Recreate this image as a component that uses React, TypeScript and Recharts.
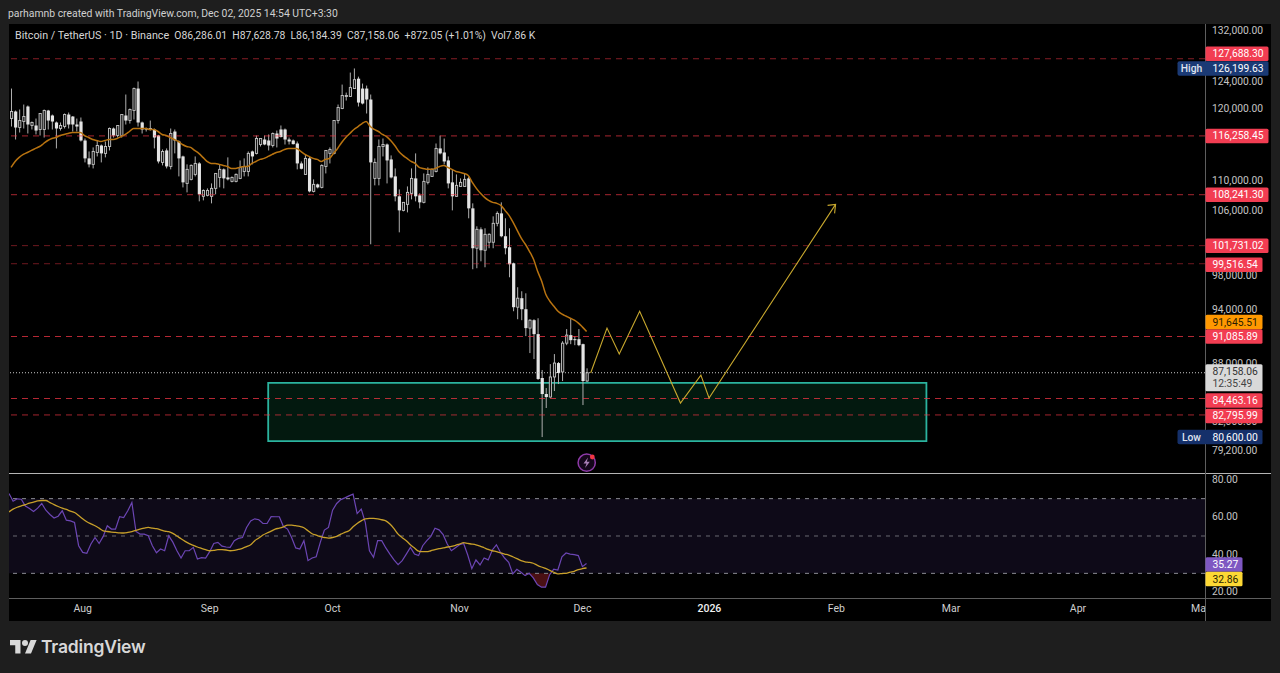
import { Area, Bar, ComposedChart, Line, ReferenceArea, ReferenceLine, XAxis, YAxis } from "recharts";

const FONT = "Roboto, sans-serif";
const TOTAL_DAYS = 293; // Jul 14 2025 .. May 2026, one slot per day

const opens = [
  118740, 119760, 117450, 118310, 120490, 117740, 117740, 117170, 117170, 119900, 119180, 118170, 117310, 117590, 119320, 119030, 117880, 118310, 115610, 113120,
  112300, 113940, 114910, 113810, 114770, 117310, 116310, 116310, 119180, 118450, 119900, 123150, 118170, 117310, 117170, 117170, 116310, 112570, 114220, 112020,
  116880, 115470, 113390, 109730, 110270, 110940, 112430, 108020, 108150, 108020, 109070, 110530, 111620, 110530, 110000, 110000, 110400, 111340, 111340, 114080,
  113810, 115050, 115750, 115610, 114910, 116600, 117170, 117170, 115750, 115610, 115190, 112430, 110940, 113120, 108670, 109600, 109200, 112020, 113810, 113810,
  118450, 120200, 121960, 121960, 123150, 124640, 123150, 123150, 121520, 110400, 110400, 114770, 115050, 112980, 110670, 108020, 106190, 106970, 108410, 110400,
  108150, 107230, 109870, 110670, 111340, 114500, 113940, 112840, 109870, 108020, 109330, 109330, 110400, 106450, 101410, 103770, 101160, 102150, 102150, 104530,
  105800, 102900, 101530, 99570, 94390, 95430, 94160, 92020, 92910, 91350, 86600, 84930, 84620, 86710, 88190, 87240, 90350, 91240, 90790, 90790,
  90240, 86286.01,
];
const highs = [
  123150, 119900, 120050, 120780, 120640, 118310, 118740, 119470, 120050, 120000, 119320, 118310, 118170, 119470, 119610, 119100, 118740, 118890, 115890, 114080,
  114640, 115610, 115050, 115470, 117450, 117450, 117740, 119320, 122260, 120200, 123300, 124210, 118300, 117450, 118450, 117310, 116400, 114360, 114500, 117310,
  117170, 115610, 113500, 112300, 112300, 113390, 112600, 108930, 109070, 109730, 111070, 112300, 111750, 113260, 110670, 111070, 112840, 113120, 114080, 114200,
  116310, 115890, 116310, 116460, 116740, 117020, 117740, 117310, 116030, 115750, 115470, 112700, 113670, 113390, 110270, 109700, 112300, 114220, 114640, 118450,
  120780, 123750, 122550, 125570, 126199.63, 124950, 123900, 123600, 122260, 113120, 115750, 115890, 115190, 113530, 111750, 108930, 107230, 109330, 111750, 113810,
  108410, 111070, 111890, 111750, 115190, 116310, 115890, 113390, 111620, 110940, 110400, 111070, 110670, 107100, 104150, 104020, 103900, 103270, 105420, 106060,
  107230, 105170, 103900, 99650, 96710, 96240, 96000, 93020, 93020, 93130, 87450, 85550, 88080, 89160, 88300, 90570, 91910, 93130, 91130, 91910,
  90300, 87628.78,
];
const lows = [
  117590, 115750, 116740, 117310, 116600, 117170, 116460, 116310, 116030, 117170, 117170, 114500, 117020, 117310, 117310, 116880, 116880, 115470, 112570, 111890,
  111750, 113390, 112570, 113260, 114220, 116030, 116030, 116030, 117880, 118020, 118600, 117590, 116600, 116880, 117020, 114500, 112430, 112160, 111750, 111620,
  113810, 110670, 109200, 108540, 110130, 110670, 107360, 107490, 108020, 107100, 108280, 109200, 109070, 110130, 109870, 109870, 110300, 110670, 110670, 112300,
  113670, 114770, 114950, 114220, 114640, 114640, 116030, 115050, 115050, 115050, 111620, 111620, 110900, 108540, 108540, 109070, 109070, 111070, 112430, 113670,
  118020, 120100, 121370, 121900, 124490, 120490, 120800, 119470, 101900, 109470, 109470, 113390, 109730, 110400, 107360, 103390, 106060, 105930, 107620, 107360,
  106450, 107100, 109600, 110600, 111210, 113670, 112300, 109070, 106190, 107950, 109250, 109250, 105170, 98850, 98970, 99810, 99090, 101410, 101410, 104150,
  102770, 100660, 97890, 93930, 93020, 92910, 91130, 89270, 88620, 86400, 80600, 83500, 84550, 85240, 85970, 86280, 90130, 90240, 90130, 90020,
  83800, 86184.39,
];
const closes = [
  119760, 117450, 118450, 119030, 117880, 118170, 117020, 119470, 119900, 118450, 118310, 117310, 117740, 119320, 117880, 117880, 117590, 115610, 113120, 112300,
  114080, 114910, 113810, 114770, 117310, 116310, 117740, 119320, 118450, 120050, 123150, 118170, 117170, 117170, 117310, 116030, 112700, 114080, 112020, 116600,
  115610, 113120, 109870, 111620, 112160, 112430, 108280, 108800, 108800, 109070, 111070, 111620, 110400, 110270, 110530, 110940, 111890, 112020, 113810, 113390,
  115890, 115890, 115050, 114910, 116600, 115890, 116100, 115750, 115470, 115100, 112430, 111700, 113120, 108670, 109600, 109200, 112160, 114220, 114360, 118450,
  120340, 122110, 122110, 123300, 124490, 121070, 120930, 121520, 112570, 112570, 114770, 115050, 112840, 110530, 108020, 106190, 107230, 108540, 110400, 108020,
  107230, 110000, 110940, 111620, 114500, 113810, 112700, 109730, 108020, 109470, 109870, 110270, 106450, 101410, 103770, 101160, 103140, 103140, 104530, 105800,
  102900, 101410, 99450, 94390, 95430, 94160, 92020, 92910, 91350, 86500, 84930, 84620, 86710, 88190, 87130, 90350, 91240, 90680, 90680, 90130,
  86286.01, 87158.06,
];
const priceMa = [
  111890, 112700, 113260, 113670, 113940, 114220, 114500, 114770, 115190, 115610, 115890, 116030, 116310, 116460, 116600, 116740, 116740, 116740, 116310, 116030,
  115750, 115610, 115470, 115610, 115750, 115750, 115890, 116170, 116460, 116880, 117310, 117310, 117310, 117310, 117170, 117170, 116880, 116460, 116310, 116030,
  115750, 115470, 115050, 114770, 114640, 114220, 113810, 113260, 112700, 112430, 112430, 112300, 112160, 112020, 111750, 111750, 111890, 112020, 112020, 112430,
  112700, 112980, 113120, 113390, 113670, 113940, 114080, 114360, 114500, 114500, 114500, 114080, 113670, 113390, 113120, 112980, 112700, 112980, 113120, 113810,
  114500, 115330, 116030, 116600, 117170, 117590, 118020, 118310, 117590, 117170, 116880, 116460, 116170, 115610, 114910, 114080, 113530, 113120, 112700, 112430,
  111890, 111750, 111620, 111620, 111750, 112020, 112160, 111890, 111620, 111340, 111210, 111070, 110800, 109870, 109070, 108410, 107880, 107490, 107230, 107100,
  106840, 106190, 105550, 104650, 103640, 102650, 101900, 101030, 100050, 98610, 97420, 95890, 95080, 94500, 93930, 93590, 93360, 93130, 92910, 92580,
  92130, 91645.51,
];
const rsi = [
  72.7, 68.6, 69.9, 69.7, 66.0, 64.7, 63.1, 64.9, 67.4, 63.8, 61.5, 59.6, 60.6, 63.5, 58.5, 58.1, 57.2, 44.8, 41.2, 40.7,
  45.7, 49.2, 46.0, 49.8, 55.5, 53.7, 53.7, 60.3, 59.9, 63.5, 67.9, 52.4, 51.0, 51.0, 50.1, 44.8, 41.0, 43.0, 42.1, 50.1,
  46.7, 42.1, 38.2, 42.1, 42.1, 43.9, 37.7, 38.4, 38.2, 41.6, 46.0, 46.6, 44.6, 44.1, 43.9, 47.5, 48.7, 49.2, 54.6, 58.1,
  59.2, 58.7, 56.7, 56.7, 60.4, 60.3, 60.3, 55.1, 53.7, 49.2, 43.6, 43.0, 47.5, 36.8, 38.2, 38.9, 46.6, 53.2, 54.6, 63.8,
  67.4, 69.5, 70.4, 71.5, 72.4, 62.0, 64.4, 57.2, 42.1, 38.6, 47.5, 47.5, 43.6, 40.3, 37.2, 34.7, 36.8, 40.3, 43.9, 40.3,
  39.5, 44.8, 47.5, 49.8, 54.2, 53.3, 50.7, 45.7, 42.1, 43.7, 45.3, 46.0, 39.8, 32.5, 37.2, 34.5, 38.2, 37.2, 42.5, 45.3,
  41.2, 38.2, 35.9, 29.7, 32.2, 30.6, 28.8, 30.0, 27.6, 24.0, 22.6, 22.6, 29.3, 32.3, 31.8, 38.9, 40.9, 40.3, 40.0, 39.5,
  33.6, 35.27,
];
const rsiMa = [
  62.9, 64.4, 65.4, 66.1, 66.8, 67.6, 68.1, 68.8, 69.0, 69.0, 67.9, 66.8, 65.8, 64.9, 64.2, 63.3, 62.6, 61.0, 59.2, 57.6,
  56.5, 55.5, 54.2, 52.8, 52.4, 52.1, 51.9, 51.7, 51.6, 51.9, 52.4, 53.0, 53.7, 54.2, 54.6, 54.2, 53.9, 53.3, 52.6, 52.3,
  51.4, 50.0, 48.5, 47.1, 45.9, 45.0, 44.1, 43.4, 42.7, 42.1, 42.3, 42.7, 42.7, 42.5, 42.1, 42.3, 42.8, 43.4, 44.3, 45.3,
  47.5, 48.9, 50.5, 51.6, 52.6, 53.7, 54.2, 54.9, 55.8, 55.8, 55.5, 55.1, 54.4, 52.8, 51.2, 50.5, 49.6, 49.2, 48.9, 49.2,
  49.8, 51.0, 51.9, 52.8, 54.9, 56.7, 58.1, 59.2, 59.4, 59.4, 59.2, 58.7, 58.1, 56.4, 53.9, 51.0, 49.1, 47.5, 45.3, 43.6,
  41.9, 41.6, 41.6, 42.1, 42.7, 43.2, 43.6, 44.1, 44.4, 45.0, 45.7, 46.4, 46.0, 45.7, 45.3, 44.6, 43.7, 42.8, 42.1, 41.6,
  40.9, 40.3, 39.8, 38.9, 37.9, 36.8, 36.2, 35.9, 35.4, 34.3, 33.4, 32.7, 31.6, 30.6, 29.7, 29.9, 30.0, 30.6, 31.1, 32.0,
  32.5, 32.86,
];

// hand-drawn forecast path: day slot -> price
const pathDays = [142, 146, 149, 154, 164, 169, 171, 202];
const pathPrices = [87130, 92020, 89160, 93930, 84000, 86910, 84520, 106970];

const priceTicks = [132000, 124000, 120000, 116000, 110000, 106000, 98000, 94000, 88000, 82000, 79200];
const rsiTicks = [80, 60, 40, 20];
const monthDays = [18, 49, 79, 110, 140, 171, 202, 230, 261, 291];
const monthLabels = ["Aug", "Sep", "Oct", "Nov", "Dec", "2026", "Feb", "Mar", "Apr", "May"];

const levels = [127688.3, 116258.45, 108241.3, 101731.02, 99516.54, 91085.89, 84463.16, 82795.99];
const levelShift = [-5, 0, 0, 0, 1, 0, 2, 1]; // tags get pushed apart so they don't overlap
const levelBright = [0.55, 0.55, 0.55, 0.5, 0.5, 0.75, 0.75, 0.75];
const zoneDays = [63.5, 224.75];
const zonePrices = [86080, 80200];

const PRICE_DOMAIN = [77151, 133210];
const RSI_DOMAIN = [16.8, 83.73];

const money = (v: number) => v.toLocaleString("en-US", { minimumFractionDigits: 2, maximumFractionDigits: 2 });

const rows = Array.from({ length: TOTAL_DAYS }, (_, i) => {
  const p = pathDays.indexOf(i);
  return {
    day: i,
    open: opens[i],
    high: highs[i],
    low: lows[i],
    close: closes[i],
    ma: priceMa[i],
    rsi: rsi[i],
    rsiMa: rsiMa[i],
    path: p >= 0 ? pathPrices[p] : null,
    oversold: rsi[i] != null && rsi[i] <= 30 ? [rsi[i], 30] : null,
  };
});

function Wick(props: any) {
  if (props.payload.open == null) return null;
  return <rect x={props.x} y={props.y} width={1} height={props.height} fill="#aeaeae" />;
}

function Body(props: any) {
  const d = props.payload;
  if (d.open == null) return null;
  const h = Math.max(props.height, 1);
  if (d.close > d.open) {
    return <rect x={props.x + 0.5} y={props.y} width={2.2} height={h} fill="#141414" stroke="#c4c4c4" strokeWidth={0.9} />;
  }
  return <rect x={props.x} y={props.y} width={3.2} height={h} fill="#e4e4e4" />;
}

function PriceTag({ viewBox, text, sub, bg, color = "#fff", width = 63, shift = 0, side }: any) {
  const x = viewBox.x + viewBox.width + 0.5;
  const cy = viewBox.y + shift;
  const h = sub ? 27 : 14.5;
  const top = sub ? cy - 7 : cy - h / 2;
  return (
    <g style={{ fontFamily: FONT, fontSize: 10.3 }}>
      {side && <rect x={x - 28} y={top} width={30} height={h} fill={bg} rx={2} />}
      {side && (
        <text x={x - 14} y={top + 11} fill="#dfe3ee" textAnchor="middle" fontWeight={500}>
          {side}
        </text>
      )}
      <rect x={x} y={top} width={width} height={h} fill={bg} rx={1.5} />
      <text x={x + 7} y={top + 10.8} fill={color}>
        {text}
      </text>
      {sub && (
        <text x={x + 7} y={top + 23} fill="#444">
          {sub}
        </text>
      )}
    </g>
  );
}

function ArrowDot(props: any) {
  const { cx, cy, index } = props;
  if (index !== 202) return <g key={index} />;
  return <path key={index} d={`M${cx - 8} ${cy + 1}L${cx} ${cy}L${cx - 1} ${cy + 9}`} fill="none" stroke="#c8a82e" strokeWidth={1.1} />;
}

function MonthTick(props: any) {
  const { x, y, payload } = props;
  const label = monthLabels[monthDays.indexOf(payload.value)];
  return (
    <text x={x} y={y} textAnchor="middle" fill={label === "2026" ? "#f0f0f0" : "#cfcfcf"} fontWeight={label === "2026" ? 500 : 400} style={{ fontFamily: FONT, fontSize: 10.5 }}>
      {label}
    </text>
  );
}

export default function App() {
  return (
    <div style={{ position: "absolute", left: 0, top: 0, width: 1280, height: 673, overflow: "hidden", background: "#1e1e1e", fontFamily: FONT }}>
      <div style={{ position: "absolute", left: 8, top: 7, fontSize: 10.4, color: "#d0d0d0", whiteSpace: "nowrap" }}>
        parhamnb created with TradingView.com, Dec 02, 2025 14:54 UTC+3:30
      </div>

      <div style={{ position: "absolute", left: 9, top: 24, width: 1262, height: 597, background: "#000" }} />

      <div style={{ position: "absolute", left: 9, top: 24 }}>
        <ComposedChart width={1262} height={449} data={rows} margin={{ top: 0, right: 0, bottom: 0, left: 0 }} barGap={0}>
          <XAxis dataKey="day" type="category" hide height={0} interval={0} />
          <XAxis xAxisId="wick" dataKey="day" type="category" hide height={0} interval={0} />
          <XAxis xAxisId="zone" dataKey="day" type="number" domain={[0, TOTAL_DAYS]} hide height={0} />
          <YAxis
            orientation="right"
            width={66}
            scale="log"
            type="number"
            domain={PRICE_DOMAIN}
            allowDataOverflow
            ticks={priceTicks}
            interval={0}
            tickFormatter={money}
            axisLine={false}
            tickLine={false}
            tickSize={0}
            tickMargin={7}
            tick={{ fill: "#c4c4c4", fontSize: 10.3, fontFamily: FONT, dy: -1.5 }}
          />
          <ReferenceArea
            xAxisId="zone"
            x1={zoneDays[0]}
            x2={zoneDays[1]}
            y1={zonePrices[1]}
            y2={zonePrices[0]}
            fill="#03190f"
            fillOpacity={1}
            stroke="#2bb39f"
            strokeWidth={1.8}
          />
          {levels.map((v, i) => (
            <ReferenceLine
              key={v}
              y={v}
              stroke="#f23645"
              strokeOpacity={levelBright[i]}
              strokeWidth={i === 3 || i === 4 || i === 7 ? 0.9 : 1.1}
              strokeDasharray="6 5"
            />
          ))}
          <ReferenceLine y={87158.06} stroke="#c8c8c8" strokeDasharray="1 2" />
          <Bar xAxisId="wick" dataKey={(d: any) => (d.open == null ? null : [d.low, d.high])} barSize={1} shape={Wick} isAnimationActive={false} />
          <Bar dataKey={(d: any) => (d.open == null ? null : [Math.min(d.open, d.close), Math.max(d.open, d.close)])} barSize={3} shape={Body} isAnimationActive={false} />
          <Line dataKey="ma" type="monotone" stroke="#b87310" strokeWidth={1.5} dot={false} isAnimationActive={false} />
          <Line dataKey="path" type="linear" connectNulls stroke="#c8a82e" strokeWidth={1.1} dot={ArrowDot} activeDot={false} isAnimationActive={false} />
        </ComposedChart>
      </div>

      <div style={{ position: "absolute", left: 9, top: 473 }}>
        <ComposedChart width={1262} height={148} data={rows} margin={{ top: 0, right: 0, bottom: 0, left: 0 }}>
          <XAxis
            dataKey="day"
            type="category"
            height={23}
            ticks={monthDays}
            interval={0}
            axisLine={false}
            tickLine={false}
            tickSize={0}
            tickMargin={14}
            tick={MonthTick}
          />
          <YAxis
            orientation="right"
            width={66}
            type="number"
            domain={RSI_DOMAIN}
            allowDataOverflow
            ticks={rsiTicks}
            interval={0}
            tickFormatter={(v: number) => v.toFixed(2)}
            axisLine={false}
            tickLine={false}
            tickSize={0}
            tickMargin={7}
            tick={{ fill: "#c4c4c4", fontSize: 10.3, fontFamily: FONT, dy: -0.7 }}
          />
          <ReferenceArea y1={30} y2={70} fill="#0e0a18" fillOpacity={1} stroke="none" />
          <ReferenceLine y={70} stroke="#8c8c94" strokeDasharray="4 5" />
          <ReferenceLine y={50} stroke="#6a6a72" strokeDasharray="4 5" />
          <ReferenceLine y={30} stroke="#8c8c94" strokeDasharray="4 5" />
          <Area dataKey="oversold" stroke="none" fill="#4a1014" fillOpacity={1} isAnimationActive={false} />
          <Line dataKey="rsi" type="linear" stroke="#6c46b4" strokeWidth={1.2} dot={false} isAnimationActive={false} />
          <Line dataKey="rsiMa" type="monotone" stroke="#c8a02a" strokeWidth={1.3} dot={false} isAnimationActive={false} />
        </ComposedChart>
      </div>

      {/* pane separators */}
      <div style={{ position: "absolute", left: 1206, top: 599, width: 65, height: 22, background: "#000" }} />
      <div style={{ position: "absolute", left: 9, top: 473, width: 1262, height: 1, background: "#b4b4b4" }} />
      <div style={{ position: "absolute", left: 9, top: 598, width: 1262, height: 1, background: "#5e5e5e" }} />
      <div style={{ position: "absolute", left: 1205, top: 24, width: 1, height: 597, background: "#5e5e5e" }} />

      {/* price tags sit above the axis labels, so they get their own layers on the same scales */}
      <div style={{ position: "absolute", left: 9, top: 24 }}>
        <ComposedChart width={1262} height={449} data={rows} margin={{ top: 0, right: 0, bottom: 0, left: 0 }}>
          <XAxis dataKey="day" type="category" hide height={0} />
          <YAxis orientation="right" width={66} scale="log" type="number" domain={PRICE_DOMAIN} allowDataOverflow axisLine={false} tickLine={false} tick={false} />
          {levels.map((v, i) => (
            <ReferenceLine
              key={`tag-${v}`}
              y={v}
              stroke="none"
              label={(p: any) => <PriceTag viewBox={p.viewBox} text={money(v)} bg="#f23d52" shift={levelShift[i]} width={v >= 100000 ? 63 : 57} />}
            />
          ))}
          <ReferenceLine y={126199.63} stroke="none" label={(p: any) => <PriceTag viewBox={p.viewBox} text="126,199.63" bg="#1b3a75" side="High" />} />
          <ReferenceLine y={91645.51} stroke="none" label={(p: any) => <PriceTag viewBox={p.viewBox} text="91,645.51" bg="#ff9800" color="#2a1c00" width={57} shift={-9.5} />} />
          <ReferenceLine y={87158.06} stroke="none" label={(p: any) => <PriceTag viewBox={p.viewBox} text="87,158.06" sub="12:35:49" bg="#d9d9d9" color="#333" width={57} shift={-1.5} />} />
          <ReferenceLine y={80600} stroke="none" label={(p: any) => <PriceTag viewBox={p.viewBox} text="80,600.00" bg="#15306a" width={57} side="Low" />} />
        </ComposedChart>
      </div>
      <div style={{ position: "absolute", left: 9, top: 473 }}>
        <ComposedChart width={1262} height={148} data={rows} margin={{ top: 0, right: 0, bottom: 23, left: 0 }}>
          <XAxis dataKey="day" type="category" hide height={0} />
          <YAxis orientation="right" width={66} type="number" domain={RSI_DOMAIN} allowDataOverflow axisLine={false} tickLine={false} tick={false} />
          <ReferenceLine y={35.27} stroke="none" label={(p: any) => <PriceTag viewBox={p.viewBox} text="35.27" bg="#7e57c2" width={37} shift={1} />} />
          <ReferenceLine y={32.86} stroke="none" label={(p: any) => <PriceTag viewBox={p.viewBox} text="32.86" bg="#fdd835" color="#2b2400" width={37} shift={11} />} />
        </ComposedChart>
      </div>

      <div style={{ position: "absolute", left: 15, top: 29, fontSize: 10.4, color: "#d6d6d6", whiteSpace: "nowrap" }}>
        <span style={{ fontSize: 10.75 }}>Bitcoin / TetherUS · 1D · Binance</span>&nbsp; O86,286.01&nbsp; H87,628.78&nbsp; L86,184.39&nbsp; C87,158.06&nbsp; +872.05 (+1.01%)&nbsp; Vol7.86 K
      </div>

      <svg style={{ position: "absolute", left: 574, top: 450 }} width={26} height={26}>
        <circle cx={12.7} cy={12.7} r={8.6} fill="#14061a" stroke="#8e3aa8" strokeWidth={1.5} />
        <path d="M14 7.5L9.5 13.5H12.5L11 18L15.8 11.8H12.8Z" fill="#a97fb6" />
        <circle cx={18.3} cy={7} r={2.4} fill="#f23645" />
      </svg>

      <svg style={{ position: "absolute", left: 10, top: 637 }} width={27} height={21} viewBox="0 0 36 28">
        <path d="M14 22H7V11H0V4h14v18zM28 22h-8l7.5-18h8L28 22z" fill="#d8d8d8" />
        <circle cx={20} cy={8} r={4} fill="#d8d8d8" />
      </svg>
      <div style={{ position: "absolute", left: 41, top: 636, fontSize: 17.5, fontWeight: 600, color: "#d8d8d8", whiteSpace: "nowrap", fontFamily: "Inter, sans-serif", letterSpacing: -0.2 }}>
        TradingView
      </div>
    </div>
  );
}
